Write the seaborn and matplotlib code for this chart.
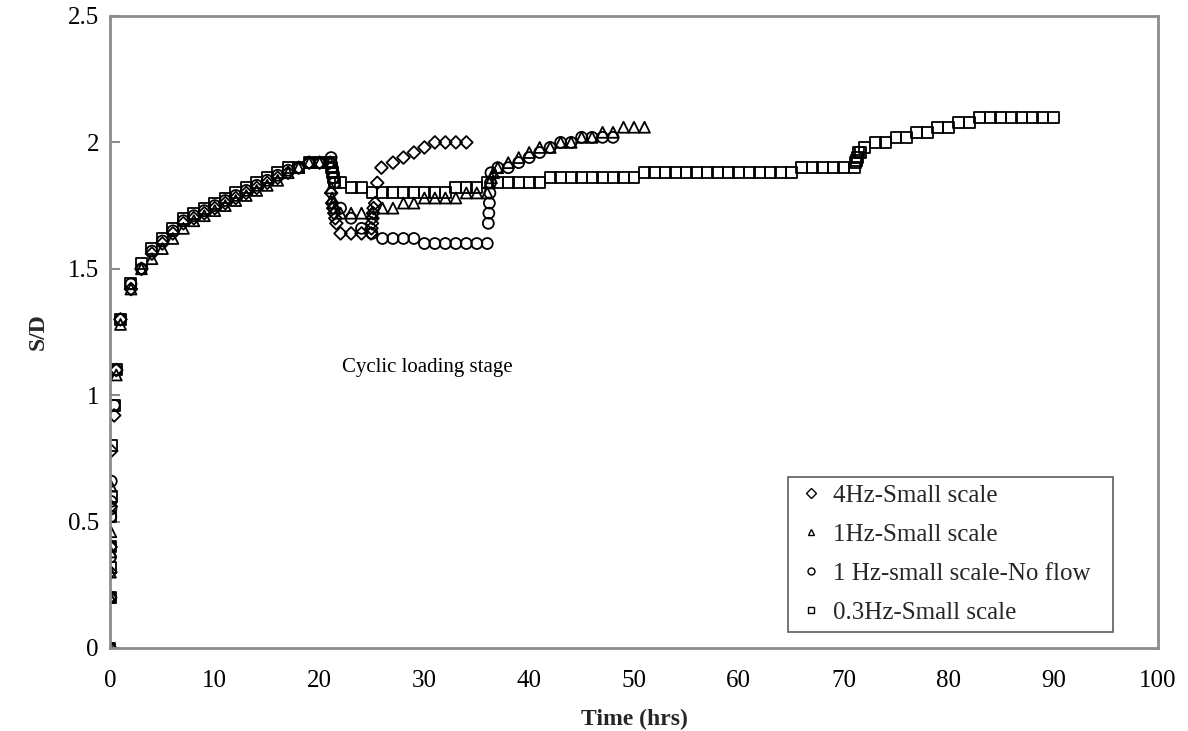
import matplotlib
matplotlib.use("Agg")
import matplotlib.pyplot as plt
import pandas as pd
import seaborn as sns
from matplotlib.lines import Line2D

series_names = ["4Hz-Small scale", "1Hz-Small scale",
                "1 Hz-small scale-No flow", "0.3Hz-Small scale"]

# 4 Hz, small scale
t_4hz = [0, 0.02, 0.04, 0.06, 0.08, 0.12, 0.4, 0.6,
         1, 2, 3, 4, 5, 6, 7, 8, 9, 10, 11, 12, 13, 14, 15, 16, 17, 18, 19, 20, 21,
         21.1, 21.2, 21.3, 21.4, 21.5, 21.6, 22, 23, 24,
         24.9, 24.95, 25.0, 25.05, 25.1, 25.15, 25.3, 25.5, 25.9,
         27, 28, 29, 30, 31, 32, 33, 34]
sd_4hz = [0, 0.20, 0.30, 0.40, 0.56, 0.78, 0.92, 1.10,
          1.30, 1.42, 1.50, 1.56, 1.60, 1.64, 1.68, 1.70, 1.72, 1.74, 1.76, 1.78,
          1.80, 1.82, 1.84, 1.86, 1.88, 1.90, 1.92, 1.92, 1.92,
          1.80, 1.76, 1.74, 1.72, 1.70, 1.68, 1.64, 1.64, 1.64,
          1.64, 1.66, 1.68, 1.70, 1.72, 1.74, 1.76, 1.84, 1.90,
          1.92, 1.94, 1.96, 1.98, 2.00, 2.00, 2.00, 2.00]

# 1 Hz, small scale
t_1hz = [0, 0.02, 0.04, 0.06, 0.08, 0.1, 0.6,
         1, 2, 3, 4, 5, 6, 7, 8, 9, 10, 11, 12, 13, 14, 15, 16, 17, 18, 19, 20, 21,
         21.1, 21.2, 21.3, 21.5, 22, 23, 24, 25, 26, 27, 28, 29,
         30, 31, 32, 33, 34, 35, 36, 36.2, 36.4, 36.6,
         37, 38, 39, 40, 41, 42, 43, 44, 45, 46, 47, 48, 49, 50, 51]
sd_1hz = [0, 0.20, 0.30, 0.38, 0.46, 0.64, 1.08,
          1.28, 1.42, 1.50, 1.54, 1.58, 1.62, 1.66, 1.69, 1.71, 1.73, 1.75, 1.77,
          1.79, 1.81, 1.83, 1.85, 1.88, 1.90, 1.92, 1.92, 1.92,
          1.82, 1.78, 1.76, 1.74, 1.72, 1.72, 1.72, 1.72, 1.74, 1.74, 1.76, 1.76,
          1.78, 1.78, 1.78, 1.78, 1.80, 1.80, 1.80, 1.84, 1.86, 1.88,
          1.90, 1.92, 1.94, 1.96, 1.98, 1.98, 2.00, 2.00, 2.02, 2.02, 2.04, 2.04,
          2.06, 2.06, 2.06]

# 1 Hz, small scale, no flow
t_nf = [0, 0.02, 0.04, 0.06, 0.08, 0.09, 0.1, 0.12, 0.4, 0.6,
        1, 2, 3, 4, 5, 6, 7, 8, 9, 10, 11, 12, 13, 14, 15, 16, 17, 18, 19, 20, 21,
        21.1, 21.2, 21.25, 21.3, 21.4, 22, 23, 24, 25,
        26, 27, 28, 29, 30, 31, 32, 33, 34, 35, 36,
        36.1, 36.15, 36.2, 36.25, 36.3, 36.35,
        37, 38, 39, 40, 41, 42, 43, 44, 45, 46, 47, 48]
sd_nf = [0, 0.20, 0.36, 0.40, 0.52, 0.55, 0.58, 0.66, 0.96, 1.10,
         1.30, 1.44, 1.50, 1.57, 1.61, 1.65, 1.69, 1.71, 1.73, 1.75, 1.77, 1.79,
         1.81, 1.83, 1.85, 1.87, 1.89, 1.90, 1.92, 1.92, 1.92,
         1.94, 1.90, 1.88, 1.86, 1.84, 1.74, 1.70, 1.66, 1.64,
         1.62, 1.62, 1.62, 1.62, 1.60, 1.60, 1.60, 1.60, 1.60, 1.60, 1.60,
         1.68, 1.72, 1.76, 1.80, 1.84, 1.88,
         1.90, 1.90, 1.92, 1.94, 1.96, 1.98, 2.00, 2.00, 2.02, 2.02, 2.02, 2.02]

# 0.3 Hz, small scale
t_03hz = [0, 0.02, 0.04, 0.06, 0.08, 0.1, 0.12, 0.4, 0.6,
          1, 2, 3, 4, 5, 6, 7, 8, 9, 10, 11, 12, 13, 14, 15, 16, 17, 18, 19, 20, 21,
          21.1, 21.2, 21.3, 21.4, 22, 23, 24,
          25, 26, 27, 28, 29, 30, 31, 32, 33, 34, 35,
          36, 37, 38, 39, 40, 41, 42, 43, 44, 45, 46, 47, 48, 49, 50,
          51, 52, 53, 54, 55, 56, 57, 58, 59, 60, 61, 62, 63, 64, 65,
          66, 67, 68, 69, 70, 71, 71.1, 71.2, 71.3, 71.45, 71.6,
          72, 73, 74, 75, 76, 77, 78, 79, 80, 81, 82,
          83, 84, 85, 86, 87, 88, 89, 90]
sd_03hz = [0, 0.20, 0.32, 0.40, 0.52, 0.60, 0.80, 0.96, 1.10,
           1.30, 1.44, 1.52, 1.58, 1.62, 1.66, 1.70, 1.72, 1.74, 1.76, 1.78, 1.80,
           1.82, 1.84, 1.86, 1.88, 1.90, 1.90, 1.92, 1.92, 1.92,
           1.90, 1.88, 1.86, 1.84, 1.84, 1.82, 1.82,
           1.80, 1.80, 1.80, 1.80, 1.80, 1.80, 1.80, 1.80, 1.82, 1.82, 1.82,
           1.84, 1.84, 1.84, 1.84, 1.84, 1.84, 1.86, 1.86, 1.86, 1.86, 1.86, 1.86,
           1.86, 1.86, 1.86,
           1.88, 1.88, 1.88, 1.88, 1.88, 1.88, 1.88, 1.88, 1.88, 1.88, 1.88, 1.88,
           1.88, 1.88, 1.88,
           1.90, 1.90, 1.90, 1.90, 1.90, 1.90, 1.92, 1.93, 1.94, 1.96, 1.96,
           1.98, 2.00, 2.00, 2.02, 2.02, 2.04, 2.04, 2.06, 2.06, 2.08, 2.08,
           2.10, 2.10, 2.10, 2.10, 2.10, 2.10, 2.10, 2.10]

x_ticks = [0, 10, 20, 30, 40, 50, 60, 70, 80, 90, 100]
y_ticks = [0, 0.5, 1, 1.5, 2, 2.5]
y_tick_labels = ["0", "0.5", "1", "1.5", "2", "2.5"]

frames = []
for name, t, sd in zip(series_names,
                       [t_4hz, t_1hz, t_nf, t_03hz],
                       [sd_4hz, sd_1hz, sd_nf, sd_03hz]):
    frames.append(pd.DataFrame({"Time (hrs)": t, "S/D": sd, "series": name}))
data = pd.concat(frames, ignore_index=True)

markers = {"4Hz-Small scale": "D", "1Hz-Small scale": "^",
           "1 Hz-small scale-No flow": "o", "0.3Hz-Small scale": "s"}
sizes = {"D": 42, "^": 62, "o": 62, "s": 62}

sns.set_theme(style="white")
plt.rcParams["font.family"] = ["Liberation Serif", "DejaVu Serif"]

fig = plt.figure(figsize=(11.88, 7.31), dpi=100)
ax = fig.add_axes([110 / 1188, 83 / 731, 1048 / 1188, 632 / 731])

for name in series_names:
    sub = data[data["series"] == name]
    m = markers[name]
    sns.scatterplot(data=sub, x="Time (hrs)", y="S/D", ax=ax, marker=m,
                    s=sizes[m], facecolors="none", edgecolors="black",
                    linewidths=1.3, legend=False)

ax.set_xlim(0, 100)
ax.set_ylim(0, 2.5)
ax.set_xticks(x_ticks)
ax.set_yticks(y_ticks)
ax.set_yticklabels(y_tick_labels)
ax.tick_params(axis="both", labelsize=18, colors="black", length=0)
ax.tick_params(axis="x", pad=16)
ax.tick_params(axis="y", direction="in", length=7, width=1.5,
               color="#8c8c8c", left=True, pad=8)

for sp in ax.spines.values():
    sp.set_visible(True)
    sp.set_color("#8c8c8c")
    sp.set_linewidth(2)

ax.set_xlabel("Time (hrs)", fontsize=17, fontweight="bold", labelpad=12)
ax.set_ylabel("S/D", fontsize=17, fontweight="bold", labelpad=14)

ax.text(30.3, 1.11, "Cyclic loading stage", fontsize=15, ha="center",
        va="center", color="black")

handles = [Line2D([], [], linestyle="none", marker=markers[n], markersize=5,
                  markerfacecolor="none", markeredgecolor="black",
                  markeredgewidth=1.0, label=n) for n in series_names]
leg = ax.legend(handles=handles, loc="lower left",
                bbox_to_anchor=(0.647, 0.026, 0.31, 0.24), mode="expand",
                fontsize=18, frameon=True, fancybox=False, handletextpad=0.3,
                handlelength=1.2, borderpad=0.3, labelspacing=0.66,
                borderaxespad=0)
leg.get_frame().set_edgecolor("#333333")
leg.get_frame().set_linewidth(1.2)

fig.savefig("out.png", dpi=100)
